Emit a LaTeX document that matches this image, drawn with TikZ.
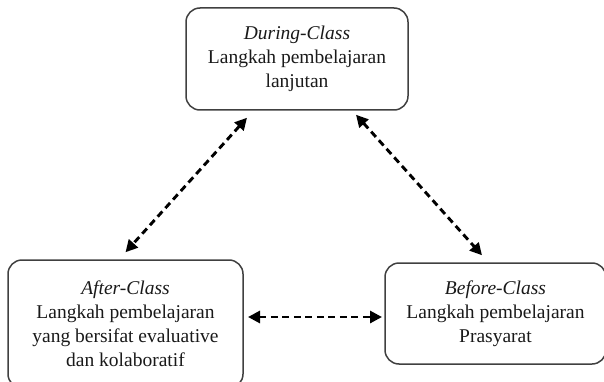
\documentclass[tikz,border=0pt]{standalone}
\usepackage{fontspec}
\setmainfont{Liberation Serif}
\usetikzlibrary{arrows.meta,calc}
\begin{document}
\begin{tikzpicture}[x=1pt,y=-1pt,
  stagebox/.style={draw=black!75,line width=1.5pt,rounded corners=14pt,align=center,
    font=\fontsize{19.5}{24}\selectfont,text=black!90,inner sep=0pt},
  link/.style={line width=2.9pt,dash pattern=on 7pt off 4.5pt,
    {Triangle[length=12pt,width=12pt]}-{Triangle[length=12pt,width=12pt]}}]
\useasboundingbox (0,0) rectangle (604,382);
\begin{scope}
\clip (0,0) rectangle (604,382);
\node[stagebox,minimum width=222pt,minimum height=102pt] (top) at (297,59)
  {\textit{During-Class}\\Langkah pembelajaran\\lanjutan};
\node[stagebox,minimum width=235pt,minimum height=128pt] (after) at (125.5,324)
  {\textit{After-Class}\\Langkah pembelajaran\\yang bersifat evaluative\\dan kolaboratif};
\node[stagebox,minimum width=221pt,minimum height=101pt] (before) at (495.5,313.5)
  {\textit{Before-Class}\\Langkah pembelajaran\\Prasyarat};
\end{scope}
\coordinate (t1) at ($(top.south)+(-50,7)$);
\coordinate (a1) at ($(after.north)+(0,-7)$);
\coordinate (t2) at ($(top.south)+(59,4)$);
\coordinate (b1) at ($(before.north)+(-13.5,-7)$);
\coordinate (a2) at (248,317);
\coordinate (b2) at (382,317);
\draw[link] (t1) -- (a1);
\draw[link] (t2) -- (b1);
\draw[link] (a2) -- (b2);
\end{tikzpicture}
\end{document}
